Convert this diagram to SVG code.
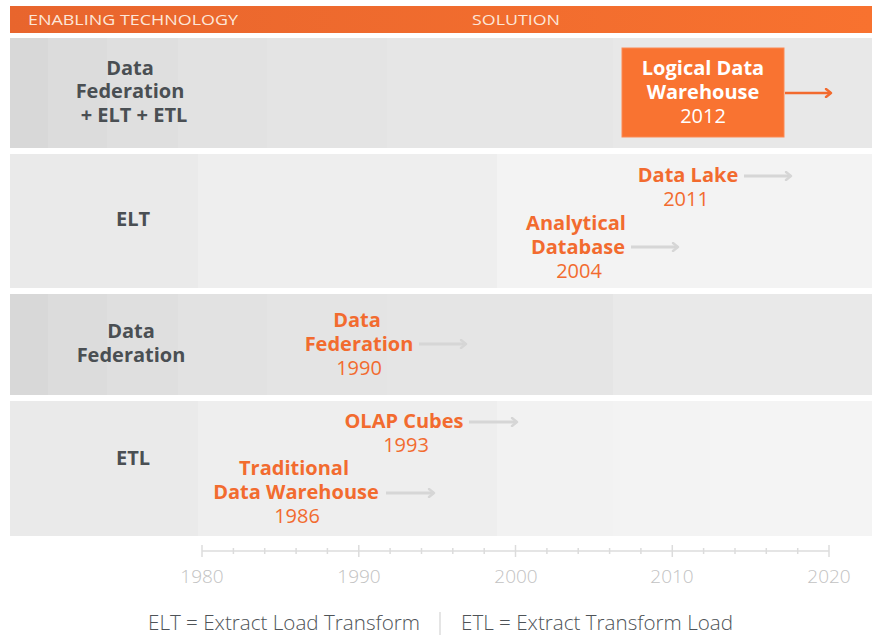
<svg xmlns="http://www.w3.org/2000/svg" width="872" height="635" viewBox="0 0 872 635">
  <defs>
    <linearGradient id="hdr" x1="0" y1="0" x2="1" y2="0">
      <stop offset="0" stop-color="#E8652D"/>
      <stop offset="1" stop-color="#F8722F"/>
    </linearGradient>
    <marker id="headGray" viewBox="0 0 10 10" refX="8" refY="5" markerWidth="10" markerHeight="10" markerUnits="userSpaceOnUse" orient="auto">
      <path d="M3,1 L8,5 L3,9" fill="none" stroke="#D6D6D6" stroke-width="2.4" stroke-linecap="round" stroke-linejoin="round"/>
    </marker>
    <marker id="headOrange" viewBox="0 0 10 10" refX="8" refY="5" markerWidth="10" markerHeight="10" markerUnits="userSpaceOnUse" orient="auto">
      <path d="M3,1 L8,5 L3,9" fill="none" stroke="#F26A2E" stroke-width="2.4" stroke-linecap="round" stroke-linejoin="round"/>
    </marker>
  </defs>
  <style>
    text { font-family: "Open Sans", "Liberation Sans", sans-serif; }
    .hdr { fill: #FCE6D8; font-size: 14px; font-weight: 400; }
    .tech { fill: #4A4F53; font-size: 20px; font-weight: 700; text-anchor: middle; }
    .sol { fill: #F26B2F; font-size: 20px; font-weight: 700; text-anchor: middle; }
    .yr { font-weight: 400; }
    .ldw { fill: #FFFFFF; font-size: 20px; font-weight: 700; text-anchor: middle; }
    .axl { fill: #C2C2C2; font-size: 19px; font-weight: 300; text-anchor: middle; }
    .foot { fill: #4E5357; font-size: 20px; font-weight: 300; }
    .arr { stroke: #D6D6D6; stroke-width: 3; fill: none; marker-end: url(#headGray); }
    .arrO { stroke: #F26A2E; stroke-width: 2.5; fill: none; marker-end: url(#headOrange); }
    .tick { stroke: #DCDCDC; stroke-width: 1.5; }
  </style>

  <rect width="872" height="635" fill="#FFFFFF"/>

  <!-- header bar -->
  <g id="header">
    <rect x="10" y="6" width="862" height="27" fill="url(#hdr)"/>
    <text class="hdr" x="28" y="25" textLength="210" lengthAdjust="spacingAndGlyphs">ENABLING TECHNOLOGY</text>
    <text class="hdr" x="472" y="25" textLength="88" lengthAdjust="spacingAndGlyphs">SOLUTION</text>
  </g>

  <!-- row bands -->
  <g id="rows">
    <g id="row-dfe">
      <rect x="10" y="38" width="862" height="110" fill="#E6E6E6"/>
      <rect x="613" y="38" width="259" height="110" fill="#E8E8E8"/>
      <rect x="10" y="38" width="377" height="110" fill="#E4E4E4"/>
      <rect x="10" y="38" width="257" height="110" fill="#E2E2E2"/>
      <rect x="10" y="38" width="168" height="110" fill="#DFDFDF"/>
      <rect x="10" y="38" width="97" height="110" fill="#DCDCDC"/>
      <rect x="10" y="38" width="38" height="110" fill="#D8D8D8"/>
    </g>
    <g id="row-elt">
      <rect x="10" y="154" width="862" height="134" fill="#F3F3F3"/>
      <rect x="10" y="154" width="487" height="134" fill="#EEEEEE"/>
      <rect x="10" y="154" width="188" height="134" fill="#EAEAEA"/>
    </g>
    <g id="row-df">
      <rect x="10" y="294" width="862" height="101" fill="#E9E9E9"/>
      <rect x="10" y="294" width="603" height="101" fill="#E5E5E5"/>
      <rect x="10" y="294" width="377" height="101" fill="#E4E4E4"/>
      <rect x="10" y="294" width="257" height="101" fill="#E2E2E2"/>
      <rect x="10" y="294" width="168" height="101" fill="#DFDFDF"/>
      <rect x="10" y="294" width="97" height="101" fill="#DCDCDC"/>
      <rect x="10" y="294" width="38" height="101" fill="#D8D8D8"/>
    </g>
    <g id="row-etl">
      <rect x="10" y="401" width="862" height="135" fill="#F4F4F4"/>
      <rect x="10" y="401" width="700" height="135" fill="#F3F3F3"/>
      <rect x="10" y="401" width="603" height="135" fill="#F2F2F2"/>
      <rect x="10" y="401" width="487" height="135" fill="#EEEEEE"/>
      <rect x="10" y="401" width="188" height="135" fill="#EAEAEA"/>
    </g>
  </g>

  <!-- enabling technology labels -->
  <g id="tech-dfe">
    <text class="tech"><tspan x="130" y="75">Data</tspan><tspan x="130" y="98">Federation</tspan><tspan x="134" y="122">+ ELT + ETL</tspan></text>
  </g>
  <g id="tech-elt">
    <text class="tech" x="133" y="226">ELT</text>
  </g>
  <g id="tech-df">
    <text class="tech"><tspan x="131" y="338">Data</tspan><tspan x="131" y="362">Federation</tspan></text>
  </g>
  <g id="tech-etl">
    <text class="tech" x="133" y="465">ETL</text>
  </g>

  <!-- solutions -->
  <g id="sol-ldw">
    <rect x="622" y="48" width="162" height="89" fill="#F97331" stroke="#FB8A55" stroke-width="1"/>
    <text class="ldw"><tspan x="703" y="75">Logical Data</tspan><tspan x="703" y="99">Warehouse</tspan><tspan class="yr" x="703" y="123">2012</tspan></text>
  </g>
  <g id="sol-lake">
    <text class="sol"><tspan x="688" y="182">Data Lake</tspan><tspan class="yr" x="686" y="206">2011</tspan></text>
  </g>
  <g id="sol-adb">
    <text class="sol"><tspan x="576" y="230">Analytical</tspan><tspan x="578" y="254">Database</tspan><tspan class="yr" x="579" y="278">2004</tspan></text>
  </g>
  <g id="sol-df">
    <text class="sol"><tspan x="357" y="327">Data</tspan><tspan x="359" y="351">Federation</tspan><tspan class="yr" x="359" y="375">1990</tspan></text>
  </g>
  <g id="sol-olap">
    <text class="sol"><tspan x="404" y="428">OLAP Cubes</tspan><tspan class="yr" x="406" y="452">1993</tspan></text>
  </g>
  <g id="sol-tdw">
    <text class="sol"><tspan x="294" y="475">Traditional</tspan><tspan x="296" y="499">Data Warehouse</tspan><tspan class="yr" x="297" y="523">1986</tspan></text>
  </g>

  <!-- continuation arrows -->
  <g id="connectors">
    <line class="arrO" x1="785" y1="93" x2="831" y2="93"/>
    <line class="arr" x1="744" y1="176" x2="791" y2="176"/>
    <line class="arr" x1="631" y1="247" x2="678" y2="247"/>
    <line class="arr" x1="419" y1="344" x2="466" y2="344"/>
    <line class="arr" x1="469" y1="422" x2="517" y2="422"/>
    <line class="arr" x1="386" y1="493" x2="434" y2="493"/>
  </g>

  <!-- timeline axis: 1980 to 2020, 2-year ticks -->
  <g id="axis">
    <line class="tick" x1="202" y1="551" x2="829" y2="551"/>
    <g>
      <line class="tick" x1="202" y1="545" x2="202" y2="557"/>
      <line class="tick" x1="233.4" y1="548" x2="233.4" y2="554"/>
      <line class="tick" x1="264.7" y1="548" x2="264.7" y2="554"/>
      <line class="tick" x1="296.1" y1="548" x2="296.1" y2="554"/>
      <line class="tick" x1="327.4" y1="548" x2="327.4" y2="554"/>
      <line class="tick" x1="358.8" y1="545" x2="358.8" y2="557"/>
      <line class="tick" x1="390.1" y1="548" x2="390.1" y2="554"/>
      <line class="tick" x1="421.5" y1="548" x2="421.5" y2="554"/>
      <line class="tick" x1="452.8" y1="548" x2="452.8" y2="554"/>
      <line class="tick" x1="484.2" y1="548" x2="484.2" y2="554"/>
      <line class="tick" x1="515.5" y1="545" x2="515.5" y2="557"/>
      <line class="tick" x1="546.9" y1="548" x2="546.9" y2="554"/>
      <line class="tick" x1="578.2" y1="548" x2="578.2" y2="554"/>
      <line class="tick" x1="609.6" y1="548" x2="609.6" y2="554"/>
      <line class="tick" x1="640.9" y1="548" x2="640.9" y2="554"/>
      <line class="tick" x1="672.3" y1="545" x2="672.3" y2="557"/>
      <line class="tick" x1="703.6" y1="548" x2="703.6" y2="554"/>
      <line class="tick" x1="735" y1="548" x2="735" y2="554"/>
      <line class="tick" x1="766.3" y1="548" x2="766.3" y2="554"/>
      <line class="tick" x1="797.7" y1="548" x2="797.7" y2="554"/>
      <line class="tick" x1="829" y1="545" x2="829" y2="557"/>
    </g>
    <text class="axl" x="202" y="583">1980</text>
    <text class="axl" x="359" y="583">1990</text>
    <text class="axl" x="516" y="583">2000</text>
    <text class="axl" x="672" y="583">2010</text>
    <text class="axl" x="829" y="583">2020</text>
  </g>

  <!-- legend -->
  <g id="legend">
    <text class="foot" x="148" y="630" textLength="272" lengthAdjust="spacingAndGlyphs">ELT = Extract Load Transform</text>
    <line x1="440" y1="612" x2="440" y2="635" stroke="#DDDDDD" stroke-width="1.5"/>
    <text class="foot" x="461" y="630" textLength="272" lengthAdjust="spacingAndGlyphs">ETL = Extract Transform Load</text>
  </g>
</svg>
